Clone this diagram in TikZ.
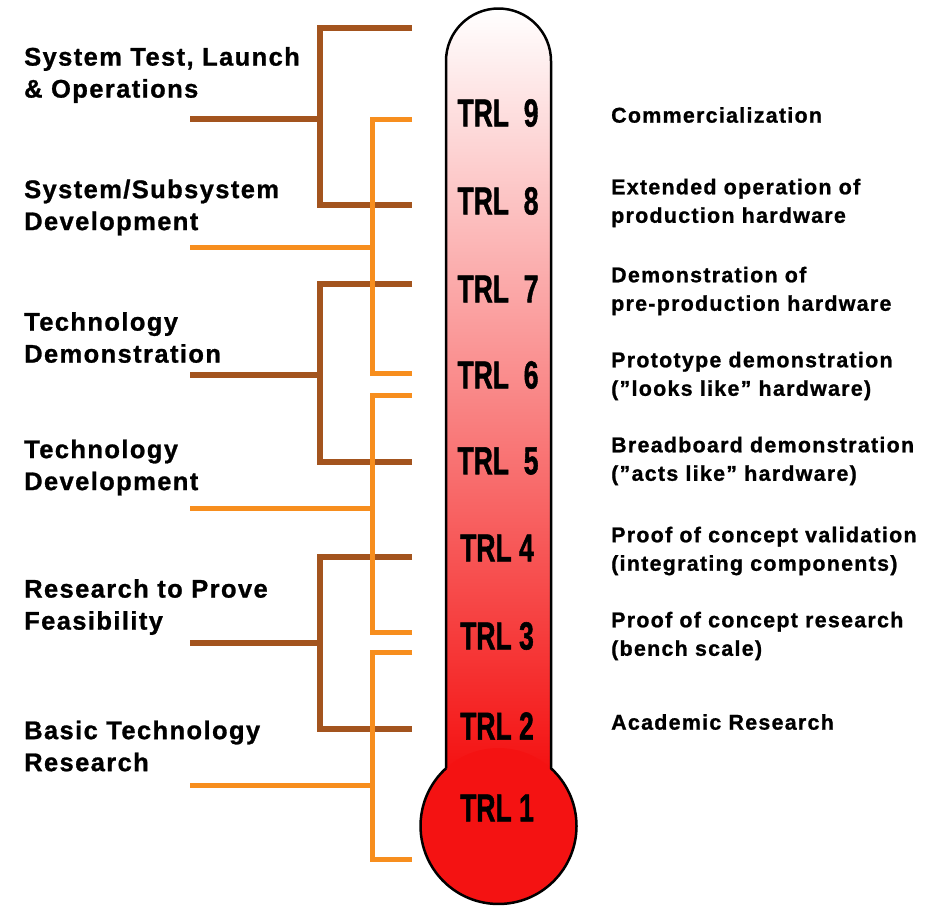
\documentclass[tikz,border=0pt]{standalone}
\usepackage{fontspec}
\usepackage{graphicx}
\setmainfont{Liberation Sans}
\newfontfamily\phasefont{Liberation Sans}[LetterSpace=5.5, BoldFeatures={FakeBold=1}]
\newfontfamily\levelfont{Liberation Sans}[LetterSpace=6, BoldFeatures={FakeBold=1}]
\newfontfamily\trlfont{Liberation Sans}[BoldFeatures={FakeBold=1.5}]

\definecolor{phasebrown}{RGB}{163,84,30}
\definecolor{phaseorange}{RGB}{247,142,30}
\definecolor{bulbred}{RGB}{244,18,18}

\tikzset{
  phase/.style = {font=\phasefont\bfseries\fontsize{25.5}{32}\selectfont, align=left, anchor=west, inner sep=0pt},
  level/.style = {font=\levelfont\bfseries\fontsize{21.4}{28.5}\selectfont, align=left, anchor=west, inner sep=0pt},
  trl/.style = {font=\trlfont\bfseries\fontsize{39}{39}\selectfont, inner sep=0pt},
  darkline/.style = {line width=5.5pt, phasebrown},
  lightline/.style = {line width=5pt, phaseorange}
}

\begin{document}
\begin{tikzpicture}[x=1pt, y=-1pt]
        \useasboundingbox (0,0) rectangle (932,908);

        % thermometer
        \shade[top color=white, bottom color=bulbred, middle color=bulbred!50] (446,770) -- (446,61) arc[start angle=180, end angle=360, radius=52.5] -- (551,770) -- cycle;
        \fill[bulbred] (498.5,826) circle(78);
        \draw[line width=2.5pt] (446,768.3) -- (446,61) arc[start angle=180, end angle=360, radius=52.5] -- (551,768.3) arc[start angle=-47.7, end angle=227.7, radius=78];

        \node[trl] (trl9) at (498,113) {\scalebox{0.68}[1]{TRL\ \ 9}};
        \node[trl] (trl8) at (498,201) {\scalebox{0.68}[1]{TRL\ \ 8}};
        \node[trl] (trl7) at (498,289) {\scalebox{0.68}[1]{TRL\ \ 7}};
        \node[trl] (trl6) at (498,375) {\scalebox{0.68}[1]{TRL\ \ 6}};
        \node[trl] (trl5) at (498,461) {\scalebox{0.68}[1]{TRL\ \ 5}};
        \node[trl] (trl4) at (497,548) {\scalebox{0.68}[1]{TRL 4}};
        \node[trl] (trl3) at (497,636) {\scalebox{0.68}[1]{TRL 3}};
        \node[trl] (trl2) at (497,726) {\scalebox{0.68}[1]{TRL 2}};
        \node[trl] (trl1) at (497,808) {\scalebox{0.68}[1]{TRL 1}};

        % phase brackets
        \draw[darkline] (412,28) -- (320,28) -- (320,205) -- (412,205);
        \draw[darkline] (190,119) -- (320,119);
        \draw[darkline] (412,284) -- (320,284) -- (320,462) -- (412,462);
        \draw[darkline] (190,375) -- (320,375);
        \draw[darkline] (412,557) -- (320,557) -- (320,729) -- (412,729);
        \draw[darkline] (190,643) -- (320,643);

        \draw[lightline] (412,119) -- (372,119) -- (372,373) -- (412,373);
        \draw[lightline] (190,247) -- (372,247);
        \draw[lightline] (412,395) -- (372,395) -- (372,632) -- (412,632);
        \draw[lightline] (190,508) -- (372,508);
        \draw[lightline] (412,652) -- (372,652) -- (372,859) -- (412,859);
        \draw[lightline] (190,785) -- (372,785);

        % phases
        \node[phase] (ops) at (24,75) {System Test, Launch\\\& Operations};
        \node[phase] (sysdev) at (24,207.5) {System/Subsystem\\Development};
        \node[phase] (techdemo) at (24,337.5) {Technology\\Demonstration};
        \node[phase] (techdev) at (24,467.5) {Technology\\Development};
        \node[phase] (feas) at (24,607) {Research to Prove\\Feasibility};
        \node[phase] (basic) at (24,746) {Basic Technology\\Research};

        % levels
        \node[level] (lv9) at (611,115) {Commercialization};
        \node[level] (lv8) at (611,203) {Extended operation of\\production hardware};
        \node[level] (lv7) at (611,291) {Demonstration of\\pre-production hardware};
        \node[level] (lv6) at (611,376) {Prototype demonstration\\(”looks like” hardware)};
        \node[level] (lv5) at (611,461) {Breadboard demonstration\\(”acts like” hardware)};
        \node[level] (lv4) at (611,551) {Proof of concept validation\\(integrating components)};
        \node[level] (lv3) at (611,636) {Proof of concept research\\(bench scale)};
        \node[level] (lv2) at (611,722) {Academic Research};
\end{tikzpicture}
\end{document}
